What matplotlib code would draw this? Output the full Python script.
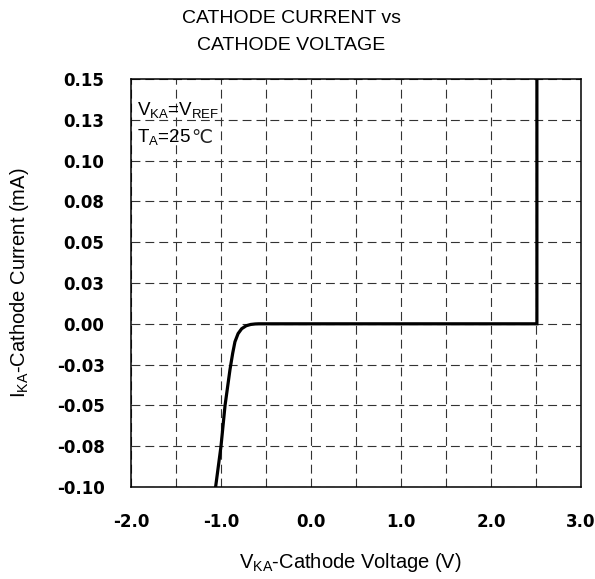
import numpy as np
from matplotlib import pyplot as plt
from matplotlib.ticker import MultipleLocator

plt.rcParams['font.family'] = ['Liberation Sans', 'DejaVu Sans']
plt.rcParams['mathtext.fontset'] = 'custom'
plt.rcParams['mathtext.rm'] = 'Liberation Sans'
plt.rcParams['mathtext.it'] = 'Liberation Sans'

# curve (V, mA)
v_ka = [-1.06, -1.00, -0.955, -0.90, -0.87, -0.845, -0.81, -0.77, -0.72, -0.67, -0.62, -0.58, 2.51, 2.51]
i_ka = [-0.10, -0.075, -0.05, -0.028, -0.018, -0.011, -0.006, -0.003, -0.0012, -0.0004, -0.0001, 0.0, 0.0, 0.15]

x_ticks = [-2.0, -1.0, 0.0, 1.0, 2.0, 3.0]
x_labels = ['-2.0', '-1.0', '0.0', '1.0', '2.0', '3.0']
y_ticks = [-0.10, -0.075, -0.05, -0.025, 0.0, 0.025, 0.05, 0.075, 0.10, 0.125, 0.15]
y_labels = ['-0.10', '-0.08', '-0.05', '-0.03', '0.00', '0.03', '0.05', '0.08', '0.10', '0.13', '0.15']

W, H = 595, 579
fig = plt.figure(figsize=(W / 100, H / 100), dpi=100)
ax = fig.add_axes([131 / W, 1 - 487 / H, 450 / W, 408 / H])

ax.plot(v_ka, i_ka, color='black', linewidth=2.3, solid_joinstyle='miter')

ax.set_xlim(-2, 3)
ax.set_ylim(-0.10, 0.15)
ax.set_xticks(x_ticks)
ax.set_xticklabels(x_labels, fontsize=12, fontweight='bold', family='DejaVu Sans')
ax.xaxis.set_minor_locator(MultipleLocator(0.5))
ax.set_yticks(y_ticks)
ax.set_yticklabels(y_labels, fontsize=12, fontweight='bold', family='DejaVu Sans')
ax.tick_params(which='both', length=0)
ax.tick_params(axis='x', pad=19)
ax.tick_params(axis='y', pad=19)

ax.grid(which='both', color='#333333', linestyle=(0, (8, 4.5)), linewidth=0.8)
ax.set_axisbelow(True)

for s in ax.spines.values():
    s.set_linewidth(1.1)

fig.text(350 / W, 1 - 563 / H, r'$\mathregular{V_{KA}}$-Cathode Voltage (V)', fontsize=14.5,
         ha='center', va='center')
fig.text(20 / W, 1 - 283 / H, r'$\mathregular{I_{KA}}$-Cathode Current (mA)', fontsize=14.5,
         ha='center', va='center', rotation=90)

t1 = ax.text(137 / W, 1 - 115 / H, r'$\mathregular{V_{KA}}$=$\mathregular{V_{REF}}$',
             transform=fig.transFigure, fontsize=13.5, va='baseline', ha='left')
t2 = ax.text(137 / W, 1 - 142 / H, r'$\mathregular{T_{A}}$=25', transform=fig.transFigure,
             fontsize=13.5, va='baseline', ha='left')
ax.annotate('℃', xy=(1, 0), xycoords=t2, xytext=(0.5, 0), textcoords='offset points',
            fontsize=13.5, family='DejaVu Sans', va='bottom', ha='left', color='#222222')

fig.text(291 / W, 1 - 32 / H, 'CATHODE CURRENT vs\nCATHODE VOLTAGE', fontsize=14,
         ha='center', va='center', linespacing=1.75)

plt.savefig('out.png', dpi=100)
